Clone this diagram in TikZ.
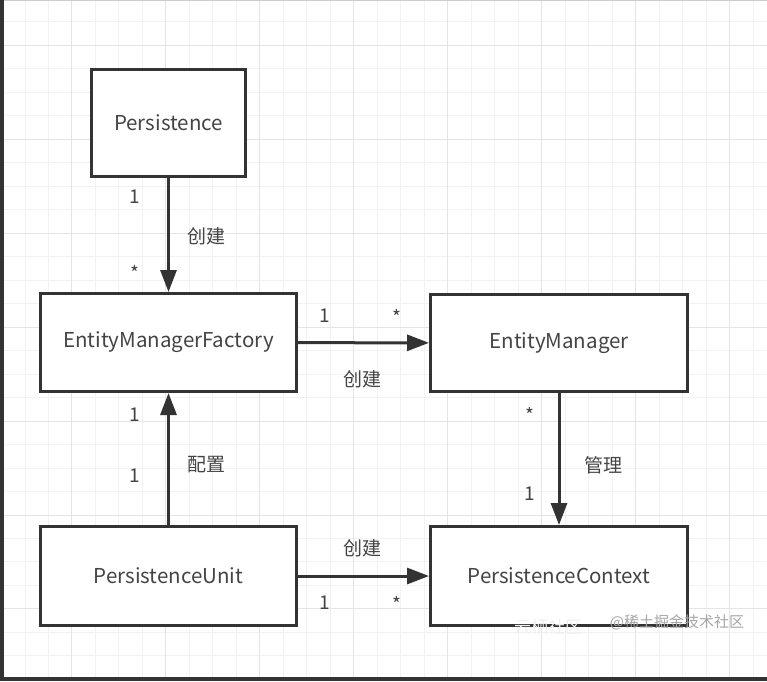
\documentclass[tikz,border=0pt]{standalone}
\usepackage{fontspec}
\setmainfont{Noto Sans CJK SC}
\usetikzlibrary{arrows.meta}
\definecolor{ink}{HTML}{333333}
\definecolor{txt}{HTML}{444444}
\definecolor{gridminor}{HTML}{F2F2F2}
\definecolor{gridmajor}{HTML}{E4E4E4}
\tikzset{>={Triangle[length=22pt,width=16pt]}}

\begin{document}
\begin{tikzpicture}[x=1pt,y=-1pt,font=\fontsize{20.5}{24}\selectfont,text=txt]

\tikzstyle{cls}=[draw=ink,line width=3pt,fill=white,inner sep=0pt]
\tikzstyle{rel}=[->,draw=ink,line width=3pt]
\tikzstyle{mult}=[font=\fontsize{19}{22}\selectfont]
\tikzstyle{verb}=[font=\fontsize{19}{22}\selectfont]

 \useasboundingbox (0,0) rectangle (767,681);
 \fill[white] (0,0) rectangle (767,681);

 % background grid
 \foreach \k in {0,...,32}
   \draw[gridminor,line width=1pt] ({25+23.49*\k},0) -- ({25+23.49*\k},681);
 \foreach \k in {0,...,28}
   \draw[gridminor,line width=1pt] (0,{21.7+23.49*\k}) -- (767,{21.7+23.49*\k});
 \foreach \k in {2,6,...,30}
   \draw[gridmajor,line width=1pt] ({25+23.49*\k},0) -- ({25+23.49*\k},681);
 \foreach \k in {1,5,...,25}
   \draw[gridmajor,line width=1pt] (0,{21.7+23.49*\k}) -- (767,{21.7+23.49*\k});

 % frame
 \draw[gray!40,line width=1pt] (0,0.5) -- (767,0.5);
 \draw[ink,line width=4pt] (2,0) -- (2,681);
 \draw[ink,line width=4pt] (0,679) -- (767,679);

 % classes
 \node[cls,minimum width=154,minimum height=107] (pers) at (168.5,123) {Persistence};
 \node[cls,minimum width=256,minimum height=98] (emf) at (168.5,342.5) {EntityManagerFactory};
 \node[cls,minimum width=257,minimum height=97] (em) at (559,343) {EntityManager};
 \node[cls,minimum width=256,minimum height=99] (pu) at (168.5,576) {PersistenceUnit};
 \node[cls,minimum width=257,minimum height=99] (pc) at (559,576) {PersistenceContext};

 % relations
 \draw[rel] (pers) -- (emf);
 \draw[rel] (emf) -- (em);
 \draw[rel] (pu) -- (emf);
 \draw[rel] (em.south -| 559,0) -- (pc.north -| 559,0);
 \draw[rel] (pu) -- (pc);

 % labels
 \node[mult] (m1) at (135,197) {1};
 \node[verb] (v1) at (206,236) {创建};
 \node[mult] (m2) at (135,273) {*};

 \node[mult] (m3) at (325,316) {1};
 \node[mult] (m4) at (397,317) {*};
 \node[verb] (v2) at (362,379) {创建};

 \node[mult] (m5) at (135,415) {1};
 \node[verb] (v3) at (206,465) {配置};
 \node[mult] (m6) at (135,476) {1};

 \node[mult] (m7) at (530,415) {*};
 \node[verb] (v4) at (603,465) {管理};
 \node[mult] (m8) at (530,494) {1};

 \node[verb] (v5) at (362,548) {创建};
 \node[mult] (m9) at (325,603) {1};
 \node[mult] (m10) at (397,604) {*};

 % watermark
 \node[font=\fontsize{17}{20}\selectfont,text=black!6] (wm1) at (548,627) {云栖社区};
 \node[font=\fontsize{15}{18}\selectfont,text=black!35] (wm2) at (677,622) {@稀土掘金技术社区};
\end{tikzpicture}
\end{document}
